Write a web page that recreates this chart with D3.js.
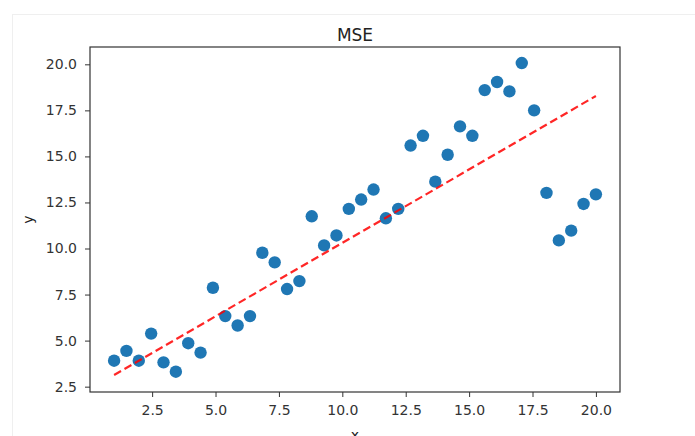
<!DOCTYPE html>
<html>
<head>
<meta charset="utf-8">
<script src="https://cdn.jsdelivr.net/npm/d3@7"></script>
<style>
  body { margin: 0; background: #fff; }
  svg text { font-family: "DejaVu Sans", sans-serif; fill: #222; }
</style>
</head>
<body>
<div id="chart"></div>
<script>
// data
const xs = d3.range(40).map(i => 1 + i * 19 / 39); // linspace(1, 20, 40)
const ys = [3.91, 4.44, 3.91, 5.38, 3.82, 3.31, 4.86, 4.35, 7.87, 6.33,
            5.82, 6.33, 9.77, 9.25, 7.8, 8.23, 11.75, 10.17, 10.71, 12.15,
            12.66, 13.2, 11.64, 12.15, 15.59, 16.12, 13.63, 15.09, 16.63, 16.12,
            18.6, 19.04, 18.53, 20.07, 17.5, 13.02, 10.44, 10.97, 12.42, 12.94];
const fitX = [1, 20];
const fitY = [3.13, 18.28];
const xTicks = [2.5, 5.0, 7.5, 10.0, 12.5, 15.0, 17.5, 20.0];
const yTicks = [2.5, 5.0, 7.5, 10.0, 12.5, 15.0, 17.5, 20.0];

const width = 695, height = 436;
const plot = {left: 90, right: 620, top: 47, bottom: 392};

const svg = d3.select("#chart").append("svg")
    .attr("width", width)
    .attr("height", height);

// faint frame of the notebook output cell
svg.append("rect")
    .attr("x", 12.5).attr("y", 14.5)
    .attr("width", width - 10).attr("height", height)
    .attr("fill", "none")
    .attr("stroke", "#efefef");

const x = d3.scaleLinear().domain([0.05, 20.95]).range([plot.left, plot.right]);
const y = d3.scaleLinear().domain([2.21, 20.94]).range([plot.bottom, plot.top]);

// axes
const fmt = d3.format(".1f");
const gx = svg.append("g")
    .attr("transform", `translate(0,${plot.bottom})`)
    .call(d3.axisBottom(x).tickValues(xTicks).tickFormat(fmt).tickSize(5).tickPadding(8));
const gy = svg.append("g")
    .attr("transform", `translate(${plot.left},0)`)
    .call(d3.axisLeft(y).tickValues(yTicks).tickFormat(fmt).tickSize(5).tickPadding(8));
[gx, gy].forEach(g => {
    g.select(".domain").remove();
    g.selectAll("line").attr("stroke", "#333");
    g.selectAll("text").attr("font-size", 14).style("fill", "#333");
});

// scatter
svg.append("g").selectAll("circle")
    .data(xs)
    .join("circle")
    .attr("cx", d => x(d))
    .attr("cy", (d, i) => y(ys[i]))
    .attr("r", 6.2)
    .attr("fill", "#1f77b4");

// fitted line
svg.append("path")
    .datum(fitX.map((d, i) => [d, fitY[i]]))
    .attr("d", d3.line().x(d => x(d[0])).y(d => y(d[1])))
    .attr("fill", "none")
    .attr("stroke", "#ff0000")
    .attr("stroke-opacity", 0.85)
    .attr("stroke-width", 2.2)
    .attr("stroke-dasharray", "8,4");

// frame
svg.append("rect")
    .attr("x", plot.left).attr("y", plot.top)
    .attr("width", plot.right - plot.left)
    .attr("height", plot.bottom - plot.top)
    .attr("fill", "none")
    .attr("stroke", "#333")
    .attr("stroke-width", 1.2);

// labels
svg.append("text")
    .attr("x", (plot.left + plot.right) / 2)
    .attr("y", 41)
    .attr("text-anchor", "middle")
    .attr("font-size", 17)
    .text("MSE");

svg.append("text")
    .attr("x", (plot.left + plot.right) / 2)
    .attr("y", 440)
    .attr("text-anchor", "middle")
    .attr("font-size", 14)
    .text("x");

svg.append("text")
    .attr("transform", `translate(33,${(plot.top + plot.bottom) / 2}) rotate(-90)`)
    .attr("text-anchor", "middle")
    .attr("font-size", 14)
    .text("y");
</script>
</body>
</html>
